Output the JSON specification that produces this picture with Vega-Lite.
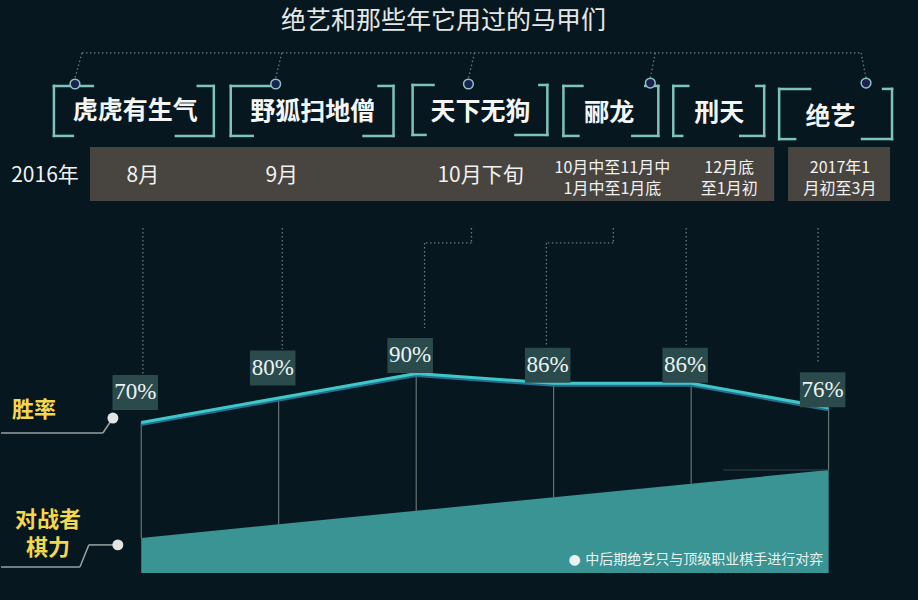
{
  "$schema": "https://vega.github.io/schema/vega-lite/v6.json",
  "width": 918,
  "height": 600,
  "autosize": {"type": "fit", "contains": "padding"},
  "padding": 0,
  "background": "#06171f",
  "config": {"view": {"stroke": null}, "axis": {"disable": true}, "text": {"font": "Noto Sans CJK SC"}},
  "datasets": {
    "winrate": [
      {"stage": 0, "alias": "虎虎有生气", "win": 70, "label": "70%", "rival": 22.8},
      {"stage": 1, "alias": "野狐扫地僧", "win": 80, "label": "80%", "rival": 28.4},
      {"stage": 2, "alias": "天下无狗", "win": 90, "label": "90%", "rival": 33.9},
      {"stage": 3, "alias": "郦龙", "win": 86, "label": "86%", "rival": 39.5},
      {"stage": 4, "alias": "刑天", "win": 86, "label": "86%", "rival": 45.0},
      {"stage": 5, "alias": "绝艺", "win": 76, "label": "76%", "rival": 50.6}
    ],
    "dotted": [
      {"a": -0.431, "b": 220.9, "a2": 5.236, "b2": 220.9},
      {"a": -0.431, "b": 220.9, "a2": -0.482, "b2": 210.6},
      {"a": 1.022, "b": 220.9, "a2": 0.978, "b2": 210.6},
      {"a": 2.424, "b": 220.9, "a2": 2.380, "b2": 210.6},
      {"a": 3.739, "b": 220.9, "a2": 3.703, "b2": 210.6},
      {"a": 5.236, "b": 220.9, "a2": 5.272, "b2": 210.6},
      {"a": 0.012, "b": 149.4, "a2": 0.012, "b2": 89.8},
      {"a": 1.026, "b": 149.4, "a2": 1.026, "b2": 100.0},
      {"a": 2.402, "b": 149.4, "a2": 2.402, "b2": 143.3},
      {"a": 2.402, "b": 143.3, "a2": 2.061, "b2": 143.3},
      {"a": 2.061, "b": 143.3, "a2": 2.061, "b2": 108.6},
      {"a": 3.434, "b": 149.4, "a2": 3.434, "b2": 143.3},
      {"a": 3.434, "b": 143.3, "a2": 2.947, "b2": 143.3},
      {"a": 2.947, "b": 143.3, "a2": 2.947, "b2": 101.6},
      {"a": 3.964, "b": 149.4, "a2": 3.964, "b2": 101.6},
      {"a": 4.923, "b": 149.4, "a2": 4.923, "b2": 94.7}
    ],
    "brackets": [
      {"a": -0.635, "b": 207.4, "a2": -0.352, "b2": 207.4},
      {"a": -0.635, "b": 207.4, "a2": -0.635, "b2": 187.0},
      {"a": -0.635, "b": 187.0, "a2": -0.497, "b2": 187.0},
      {"a": 0.411, "b": 207.4, "a2": 0.528, "b2": 207.4},
      {"a": 0.528, "b": 207.4, "a2": 0.528, "b2": 187.0},
      {"a": 0.252, "b": 187.0, "a2": 0.528, "b2": 187.0},
      {"a": 0.651, "b": 207.4, "a2": 0.99, "b2": 207.4},
      {"a": 0.651, "b": 207.4, "a2": 0.651, "b2": 187.0},
      {"a": 0.651, "b": 187.0, "a2": 0.811, "b2": 187.0},
      {"a": 1.726, "b": 207.4, "a2": 1.835, "b2": 207.4},
      {"a": 1.835, "b": 207.4, "a2": 1.835, "b2": 187.0},
      {"a": 1.617, "b": 187.0, "a2": 1.835, "b2": 187.0},
      {"a": 1.974, "b": 207.8, "a2": 2.126, "b2": 207.8},
      {"a": 1.974, "b": 207.8, "a2": 1.974, "b2": 187.4},
      {"a": 1.974, "b": 187.4, "a2": 2.068, "b2": 187.4},
      {"a": 2.896, "b": 207.8, "a2": 2.954, "b2": 207.8},
      {"a": 2.954, "b": 207.8, "a2": 2.954, "b2": 187.4},
      {"a": 2.722, "b": 187.4, "a2": 2.954, "b2": 187.4},
      {"a": 3.071, "b": 207.4, "a2": 3.209, "b2": 207.4},
      {"a": 3.071, "b": 207.4, "a2": 3.071, "b2": 187.0},
      {"a": 3.071, "b": 187.0, "a2": 3.180, "b2": 187.0},
      {"a": 3.666, "b": 207.4, "a2": 3.761, "b2": 207.4},
      {"a": 3.761, "b": 207.4, "a2": 3.761, "b2": 187.0},
      {"a": 3.572, "b": 187.0, "a2": 3.761, "b2": 187.0},
      {"a": 3.870, "b": 207.4, "a2": 3.979, "b2": 207.4},
      {"a": 3.870, "b": 207.4, "a2": 3.870, "b2": 187.0},
      {"a": 3.870, "b": 187.0, "a2": 3.935, "b2": 187.0},
      {"a": 4.473, "b": 207.4, "a2": 4.531, "b2": 207.4},
      {"a": 4.531, "b": 207.4, "a2": 4.531, "b2": 187.0},
      {"a": 4.357, "b": 187.0, "a2": 4.531, "b2": 187.0},
      {"a": 4.640, "b": 206.2, "a2": 4.865, "b2": 206.2},
      {"a": 4.640, "b": 206.2, "a2": 4.640, "b2": 185.7},
      {"a": 4.640, "b": 185.7, "a2": 4.756, "b2": 185.7},
      {"a": 5.396, "b": 206.2, "a2": 5.461, "b2": 206.2},
      {"a": 5.461, "b": 206.2, "a2": 5.461, "b2": 185.7},
      {"a": 5.243, "b": 185.7, "a2": 5.461, "b2": 185.7}
    ],
    "connectors": [
      {"a": -1.02, "b": 65.7, "a2": -0.279, "b2": 65.7},
      {"a": -0.279, "b": 65.7, "a2": -0.206, "b2": 71.8},
      {"a": -1.02, "b": 11.0, "a2": -0.446, "b2": 11.0},
      {"a": -0.446, "b": 11.0, "a2": -0.381, "b2": 20.0},
      {"a": -0.381, "b": 20.0, "a2": -0.170, "b2": 20.0}
    ],
    "knobs": [
      {"a": -0.482, "b": 208.2},
      {"a": 0.978, "b": 208.2},
      {"a": 2.380, "b": 208.2},
      {"a": 3.703, "b": 208.6},
      {"a": 5.272, "b": 208.6}
    ],
    "sideKnobs": [
      {"a": -0.206, "b": 71.8},
      {"a": -0.170, "b": 20.0}
    ],
    "bars": [
      {"a": -0.373, "a2": 4.604, "b": 182.5, "b2": 160.4},
      {"a": 4.705, "a2": 5.447, "b": 182.5, "b2": 160.4}
    ],
    "names": [
      {"t": "虎虎有生气", "a": -0.043, "b": 197.0},
      {"t": "野狐扫地僧", "a": 1.247, "b": 196.8},
      {"t": "天下无狗", "a": 2.468, "b": 196.8},
      {"t": "郦龙", "a": 3.405, "b": 196.4},
      {"t": "刑天", "a": 4.204, "b": 196.4},
      {"t": "绝艺", "a": 5.014, "b": 194.7}
    ],
    "periods": [
      {"t": "2016年", "a": -0.700, "b": 170.8},
      {"t": "8月", "a": 0.012, "b": 170.8},
      {"t": "9月", "a": 1.022, "b": 170.8},
      {"t": "10月下旬", "a": 2.468, "b": 170.8}
    ],
    "periods2": [
      {"t": ["10月中至11月中", "1月中至1月底"], "a": 3.427, "b": 174.1},
      {"t": ["12月底", "至1月初"], "a": 4.277, "b": 174.1},
      {"t": ["2017年1", "月初至3月"], "a": 5.083, "b": 174.1}
    ],
    "sideLabels": [
      {"t": ["胜率"], "a": -0.780, "b": 75.1},
      {"t": ["对战者", "棋力"], "a": -0.679, "b": 30.0}
    ],
    "captions": [
      {"t": "绝艺和那些年它用过的马甲们", "a": 2.199, "b": 233.8}
    ],
    "notes": [
      {"t": "● 中后期绝艺只与顶级职业棋手进行对弈", "a": 4.960, "b": 13.8}
    ]
  },
  "layer": [
    {
      "data": {"name": "bars"},
      "mark": {"type": "rect", "color": "#48443f"},
      "encoding": {
        "x": {"field": "a", "type": "quantitative", "scale": {"domain": [-1.02, 5.65], "nice": false, "zero": false}},
        "x2": {"field": "a2"},
        "y": {"field": "b", "type": "quantitative", "scale": {"domain": [-2.5, 242.5], "nice": false, "zero": false}},
        "y2": {"field": "b2"}
      }
    },
    {
      "data": {"name": "dotted"},
      "mark": {"type": "rule", "color": "#6f797c", "strokeWidth": 1.3, "strokeDash": [1.5, 2.5]},
      "encoding": {
        "x": {"field": "a", "type": "quantitative", "scale": {"domain": [-1.02, 5.65], "nice": false, "zero": false}},
        "x2": {"field": "a2"},
        "y": {"field": "b", "type": "quantitative", "scale": {"domain": [-2.5, 242.5], "nice": false, "zero": false}},
        "y2": {"field": "b2"}
      }
    },
    {
      "data": {"name": "brackets"},
      "mark": {"type": "rule", "color": "#7cc4bd", "strokeWidth": 2.5, "strokeCap": "square"},
      "encoding": {
        "x": {"field": "a", "type": "quantitative", "scale": {"domain": [-1.02, 5.65], "nice": false, "zero": false}},
        "x2": {"field": "a2"},
        "y": {"field": "b", "type": "quantitative", "scale": {"domain": [-2.5, 242.5], "nice": false, "zero": false}},
        "y2": {"field": "b2"}
      }
    },
    {
      "data": {"name": "knobs"},
      "mark": {"type": "point", "shape": "circle", "filled": true, "size": 95, "fill": "#1c2152", "stroke": "#8cc3c3", "strokeWidth": 1.5, "opacity": 1},
      "encoding": {
        "x": {"field": "a", "type": "quantitative", "scale": {"domain": [-1.02, 5.65], "nice": false, "zero": false}},
        "y": {"field": "b", "type": "quantitative", "scale": {"domain": [-2.5, 242.5], "nice": false, "zero": false}}
      }
    },
    {
      "data": {"name": "connectors"},
      "mark": {"type": "rule", "color": "#9aa2a2", "strokeWidth": 1.5},
      "encoding": {
        "x": {"field": "a", "type": "quantitative", "scale": {"domain": [-1.02, 5.65], "nice": false, "zero": false}},
        "x2": {"field": "a2"},
        "y": {"field": "b", "type": "quantitative", "scale": {"domain": [-2.5, 242.5], "nice": false, "zero": false}},
        "y2": {"field": "b2"}
      }
    },
    {
      "data": {"name": "sideKnobs"},
      "mark": {"type": "point", "shape": "circle", "filled": true, "size": 120, "color": "#e2e4e4", "opacity": 1},
      "encoding": {
        "x": {"field": "a", "type": "quantitative", "scale": {"domain": [-1.02, 5.65], "nice": false, "zero": false}},
        "y": {"field": "b", "type": "quantitative", "scale": {"domain": [-2.5, 242.5], "nice": false, "zero": false}}
      }
    },
    {
      "data": {"name": "winrate"},
      "mark": {"type": "area", "color": "#3a9494", "opacity": 1},
      "encoding": {
        "x": {"field": "stage", "type": "quantitative", "scale": {"domain": [-1.02, 5.65], "nice": false, "zero": false}},
        "y": {"field": "rival", "type": "quantitative", "scale": {"domain": [-2.5, 242.5], "nice": false, "zero": false}},
        "y2": {"datum": 8.5}
      }
    },
    {
      "data": {"name": "winrate"},
      "mark": {"type": "rule", "color": "#7a8484", "strokeWidth": 1},
      "encoding": {
        "x": {"field": "stage", "type": "quantitative", "scale": {"domain": [-1.02, 5.65], "nice": false, "zero": false}},
        "y": {"field": "win", "type": "quantitative", "scale": {"domain": [-2.5, 242.5], "nice": false, "zero": false}},
        "y2": {"field": "rival"}
      }
    },
    {
      "data": {"values": [{"a": 4.233, "a2": 4.996, "b": 50.6}]},
      "mark": {"type": "rule", "color": "#34464a", "strokeWidth": 1},
      "encoding": {
        "x": {"field": "a", "type": "quantitative", "scale": {"domain": [-1.02, 5.65], "nice": false, "zero": false}},
        "x2": {"field": "a2"},
        "y": {"field": "b", "type": "quantitative", "scale": {"domain": [-2.5, 242.5], "nice": false, "zero": false}}
      }
    },
    {
      "data": {"name": "winrate"},
      "mark": {"type": "line", "color": "#246f92", "strokeWidth": 3, "yOffset": 2},
      "encoding": {
        "x": {"field": "stage", "type": "quantitative", "scale": {"domain": [-1.02, 5.65], "nice": false, "zero": false}},
        "y": {"field": "win", "type": "quantitative", "scale": {"domain": [-2.5, 242.5], "nice": false, "zero": false}}
      }
    },
    {
      "data": {"name": "winrate"},
      "mark": {"type": "line", "color": "#40c8c6", "strokeWidth": 3},
      "encoding": {
        "x": {"field": "stage", "type": "quantitative", "scale": {"domain": [-1.02, 5.65], "nice": false, "zero": false}},
        "y": {"field": "win", "type": "quantitative", "scale": {"domain": [-2.5, 242.5], "nice": false, "zero": false}}
      }
    },
    {
      "data": {"name": "winrate"},
      "transform": [{"filter": "datum.stage < 2"}],
      "layer": [
        {
          "mark": {"type": "point", "shape": "M-1.3,-1H1.3V1H-1.3Z", "size": 1225, "filled": true, "color": "#2b4a4c", "opacity": 1, "xOffset": -6, "yOffset": -30}
        },
        {
          "mark": {"type": "text", "font": "Liberation Serif", "fontSize": 23, "color": "#eaf4f4", "xOffset": -6, "yOffset": -30, "baseline": "middle"},
          "encoding": {"text": {"field": "label"}}
        }
      ],
      "encoding": {
        "x": {"field": "stage", "type": "quantitative", "scale": {"domain": [-1.02, 5.65], "nice": false, "zero": false}},
        "y": {"field": "win", "type": "quantitative", "scale": {"domain": [-2.5, 242.5], "nice": false, "zero": false}}
      }
    },
    {
      "data": {"name": "winrate"},
      "transform": [{"filter": "datum.stage >= 2"}],
      "layer": [
        {
          "mark": {"type": "point", "shape": "M-1.3,-1H1.3V1H-1.3Z", "size": 1225, "filled": true, "color": "#2b4a4c", "opacity": 1, "xOffset": -6, "yOffset": -18}
        },
        {
          "mark": {"type": "text", "font": "Liberation Serif", "fontSize": 23, "color": "#eaf4f4", "xOffset": -6, "yOffset": -18, "baseline": "middle"},
          "encoding": {"text": {"field": "label"}}
        }
      ],
      "encoding": {
        "x": {"field": "stage", "type": "quantitative", "scale": {"domain": [-1.02, 5.65], "nice": false, "zero": false}},
        "y": {"field": "win", "type": "quantitative", "scale": {"domain": [-2.5, 242.5], "nice": false, "zero": false}}
      }
    },
    {
      "data": {"name": "captions"},
      "mark": {"type": "text", "fontSize": 25, "color": "#e6e8e8", "baseline": "middle"},
      "encoding": {
        "x": {"field": "a", "type": "quantitative", "scale": {"domain": [-1.02, 5.65], "nice": false, "zero": false}},
        "y": {"field": "b", "type": "quantitative", "scale": {"domain": [-2.5, 242.5], "nice": false, "zero": false}},
        "text": {"field": "t"}
      }
    },
    {
      "data": {"name": "names"},
      "mark": {"type": "text", "fontSize": 25, "fontWeight": "bold", "color": "#f4f6f6", "baseline": "middle"},
      "encoding": {
        "x": {"field": "a", "type": "quantitative", "scale": {"domain": [-1.02, 5.65], "nice": false, "zero": false}},
        "y": {"field": "b", "type": "quantitative", "scale": {"domain": [-2.5, 242.5], "nice": false, "zero": false}},
        "text": {"field": "t"}
      }
    },
    {
      "data": {"name": "periods"},
      "mark": {"type": "text", "fontSize": 21, "color": "#f2f2f2", "baseline": "middle"},
      "encoding": {
        "x": {"field": "a", "type": "quantitative", "scale": {"domain": [-1.02, 5.65], "nice": false, "zero": false}},
        "y": {"field": "b", "type": "quantitative", "scale": {"domain": [-2.5, 242.5], "nice": false, "zero": false}},
        "text": {"field": "t"}
      }
    },
    {
      "data": {"name": "periods2"},
      "mark": {"type": "text", "fontSize": 16, "lineHeight": 21, "color": "#f2f2f2", "baseline": "middle"},
      "encoding": {
        "x": {"field": "a", "type": "quantitative", "scale": {"domain": [-1.02, 5.65], "nice": false, "zero": false}},
        "y": {"field": "b", "type": "quantitative", "scale": {"domain": [-2.5, 242.5], "nice": false, "zero": false}},
        "text": {"field": "t"}
      }
    },
    {
      "data": {"name": "sideLabels"},
      "mark": {"type": "text", "fontSize": 22, "fontWeight": "bold", "lineHeight": 28, "color": "#f3d84e", "baseline": "middle"},
      "encoding": {
        "x": {"field": "a", "type": "quantitative", "scale": {"domain": [-1.02, 5.65], "nice": false, "zero": false}},
        "y": {"field": "b", "type": "quantitative", "scale": {"domain": [-2.5, 242.5], "nice": false, "zero": false}},
        "text": {"field": "t"}
      }
    },
    {
      "data": {"name": "notes"},
      "mark": {"type": "text", "font": "DejaVu Sans, Noto Sans CJK SC", "fontSize": 14, "color": "#e8f2f2", "align": "right", "baseline": "middle"},
      "encoding": {
        "x": {"field": "a", "type": "quantitative", "scale": {"domain": [-1.02, 5.65], "nice": false, "zero": false}},
        "y": {"field": "b", "type": "quantitative", "scale": {"domain": [-2.5, 242.5], "nice": false, "zero": false}},
        "text": {"field": "t"}
      }
    }
  ]
}
